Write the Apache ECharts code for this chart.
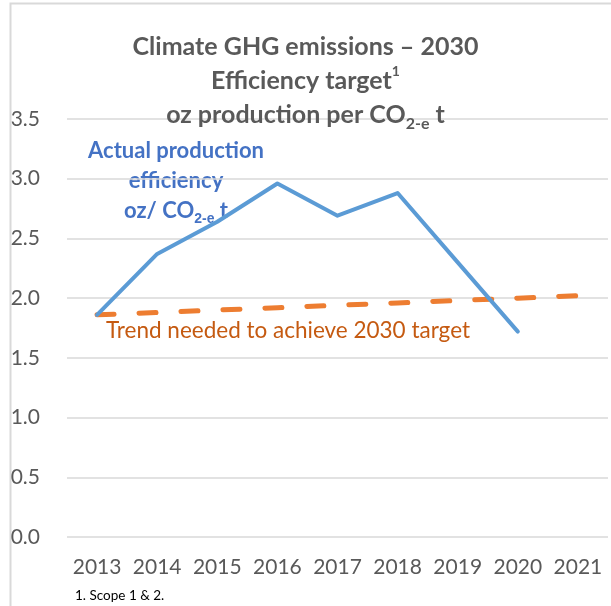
<!DOCTYPE html>
<html>
<head>
<meta charset="utf-8">
<script src="https://cdn.jsdelivr.net/npm/echarts@6/dist/echarts.min.js"></script>
<style>
  html, body { margin: 0; padding: 0; background: #fff; }
  #chart { width: 611px; height: 606px; }
</style>
</head>
<body>
<div id="chart"></div>
<script>
const years = ['2013', '2014', '2015', '2016', '2017', '2018', '2019', '2020', '2021'];
const actualEfficiency = [1.86, 2.37, 2.64, 2.96, 2.69, 2.88, 2.30, 1.72, null];
const targetTrend = [1.86, 1.88, 1.90, 1.92, 1.94, 1.96, 1.98, 2.00, 2.02];

const font = 'Lato, "Open Sans", sans-serif';
const grey = '#595959';

const chart = echarts.init(document.getElementById('chart'));

chart.setOption({
    animation: false,
    backgroundColor: '#fff',
    textStyle: { fontFamily: font },
    title: {
        text: 'Climate GHG emissions – 2030\nEfficiency target{sup|1}\noz production per CO{sub|2-e} t',
        left: 'center',
        top: 25,
        textStyle: {
            fontFamily: font,
            fontWeight: 'bold',
            fontSize: 25,
            color: grey,
            lineHeight: 34,
            rich: {
                sup: { fontSize: 14, fontWeight: 'bold', color: grey, verticalAlign: 'top', lineHeight: 28 },
                sub: { fontSize: 16, fontWeight: 'bold', color: grey, verticalAlign: 'bottom', lineHeight: 22 },
            },
        },
    },
    grid: { left: 67, right: 3, top: 119, bottom: 69, containLabel: false },
    xAxis: {
        type: 'category',
        data: years,
        boundaryGap: true,
        axisLine: { show: false },
        axisTick: { show: false },
        axisLabel: { color: grey, fontSize: 21, margin: 20, interval: 0, fontFamily: font },
    },
    yAxis: {
        type: 'value',
        min: 0,
        max: 3.5,
        interval: 0.5,
        axisLine: { show: false },
        axisTick: { show: false },
        axisLabel: {
            color: grey, fontSize: 21, margin: 27, fontFamily: font,
            formatter: (v) => v.toFixed(1),
        },
        splitLine: { lineStyle: { color: '#d9d9d9', width: 1.5 } },
    },
    series: [
        {
            name: 'Trend needed to achieve 2030 target',
            type: 'line',
            data: targetTrend,
            symbol: 'none',
            lineStyle: { color: '#ED7D31', width: 5, type: [17, 25], cap: 'round' },
            z: 2,
        },
        {
            name: 'Actual production efficiency',
            type: 'line',
            data: actualEfficiency,
            symbol: 'none',
            lineStyle: { color: '#5B9BD5', width: 4, cap: 'round', join: 'round' },
            z: 3,
        },
    ],
    graphic: [
        {
            type: 'rect',
            shape: { x: 10.5, y: 3.5, width: 700, height: 700 },
            style: { fill: 'none', stroke: '#d9d9d9', lineWidth: 2 },
            silent: true,
        },
        {
            type: 'text',
            x: 176,
            y: 136,
            style: {
                text: 'Actual production\nefficiency\noz/ CO{sub|2-e} t',
                align: 'center',
                fill: '#4472C4',
                fontFamily: font,
                fontWeight: 'bold',
                fontSize: 22,
                lineHeight: 30,
                rich: {
                    sub: { fontSize: 14, fontWeight: 'bold', fill: '#4472C4', verticalAlign: 'bottom', lineHeight: 20 },
                },
            },
        },
        {
            type: 'text',
            x: 288,
            y: 331,
            style: {
                text: 'Trend needed to achieve 2030 target',
                align: 'center',
                verticalAlign: 'middle',
                fill: '#C55A11',
                fontFamily: font,
                fontSize: 22.5,
            },
        },
        {
            type: 'text',
            x: 75,
            y: 589,
            style: { text: '1. Scope 1 & 2.', fill: '#000', fontFamily: font, fontSize: 13.5 },
        },
    ],
});
</script>
</body>
</html>
